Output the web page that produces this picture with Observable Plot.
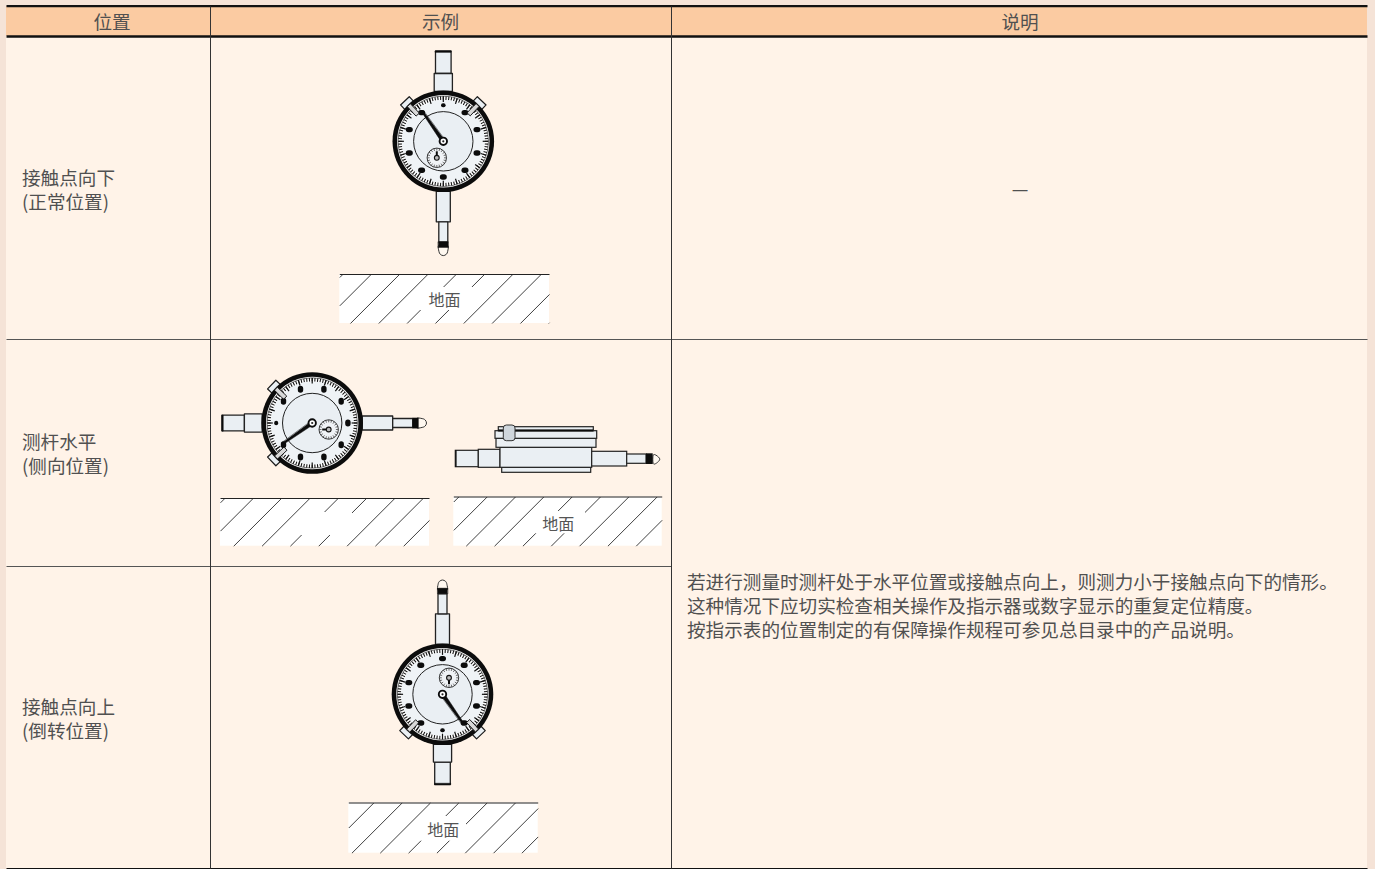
<!DOCTYPE html>
<html lang="zh"><head><meta charset="utf-8">
<script src="https://cdn.jsdelivr.net/npm/d3@7"></script>
<script src="https://cdn.jsdelivr.net/npm/@observablehq/plot@0.6"></script>
<style>html,body{margin:0;padding:0;background:#f5e3d7;overflow:hidden}svg{display:block;position:absolute;left:0;top:0}</style>
</head><body><div id="chart"></div>
<script>
// ---- table text ----
const headers = ["位置", "示例", "说明"];
const rowLabels = [["接触点向下", "(正常位置)"], ["测杆水平", "(侧向位置)"], ["接触点向上", "(倒转位置)"]];
const dashText = "—";
const descLines = [
  "若进行测量时测杆处于水平位置或接触点向上\uFF0C则测力小于接触点向下的情形。",
  "这种情况下应切实检查相关操作及指示器或数字显示的重复定位精度。",
  "按指示表的位置制定的有保障操作规程可参见总目录中的产品说明。"
];
const groundLabel = "地面";
// ---- table frame ----
const tableLeft = 6, tableRight = 1367, tableTop = 6, tableBottom = 868;
const headBottom = 36, col1 = 210, col2 = 671, row1 = 339, row2 = 566;
const headerCentres = [111.5, 440, 1019.5];
const labelX = 21.5, descX = 686.5;
const labelYs = [[179, 203], [443, 467], [708, 732]];
const descYs = [583, 607, 631];
// ---- colours ----
const cell = "#fff3e8", head = "#fbcba2", ink = "#0c0c0c", face = "#eaeff3", textInk = "#505050";
// ---- gauge model, in dial units ----
const gauges = [{cx: 442.8, cy: 140.8, deg: 0}, {cx: 311.7, cy: 422.5, deg: -90}, {cx: 442, cy: 693.8, deg: 180}];
const stemParts = [
  {hw: 7.8, a: -90.3, b: -67.8}, {hw: 9.1, a: -67.8, b: -50},
  {hw: 7, a: 50, b: 80.5}, {hw: 4.5, a: 80.5, b: 100.5}
];
const dialNumbers = [[0, -36, 1], [21.7, -28.7, 2], [33.7, -11.7, 2], [33.7, 11.7, 2], [21.7, 29, 2], [0, 35.7, 2], [-21.7, 29, 2], [-34, 11.7, 2], [-34, -11.7, 2], [-21.7, -28.7, 2]];
const needleEnd = [-21, -30], subCentre = [-6.5, 16.5];
const tickCount = 100, subTickCount = 20, lugAngles = [-43.5, 43.5];
// ---- side view, screen rectangles ----
const sideParts = [
  [455.3, 478.3, 450.3, 466.7], [478.3, 500, 449.3, 467.3], [501.7, 590.7, 467.3, 472.3],
  [500, 591.7, 447.3, 467.3], [591.7, 626.7, 451.3, 466], [626.7, 646, 454, 463.3],
  [496, 596, 438.3, 447.3], [495, 596.7, 430.7, 438.3], [498.3, 593.3, 426.7, 430.7]
];
const sideDark = [[455.3, 456.6, 450.3, 466.7], [646, 652.7, 453.3, 464], [498.3, 593.3, 429.4, 431.4]];
const sideClip = [503.3, 515, 425, 440.7], sideTip = [[652.7, 454.6], [656, 455], [659.3, 458.7], [656, 462.6], [652.7, 463]];
// ---- ground blocks ----
const hatchStep = 28.33;
const grounds = [
  {x0: 339.3, x1: 549, y0: 274, y1: 323, first: 342.3, gap: [417, 472, 287, 310], label: [444, 300.5]},
  {x0: 220, x1: 429, y0: 498, y1: 545.7, first: 224.3, gap: [298, 352, 512, 535]},
  {x0: 453.3, x1: 661.7, y0: 496.5, y1: 545.7, first: 458.3, gap: [531, 585, 511, 533.3], label: [557.7, 524.8]},
  {x0: 348.3, x1: 537.7, y0: 802.5, y1: 852.7, first: 373.3, gap: [420, 466, 816, 840.7], label: [442.7, 830.5]}
];

const rect = (x1, x2, y1, y2, o = {}) => Plot.rect([{x1, x2, y1, y2}], {x1: "x1", x2: "x2", y1: "y1", y2: "y2", ...o});
const poly = (pts, o = {}) => Plot.line(pts, {x: d => d[0], y: d => d[1], curve: "linear-closed", ...o});
const seg = (rows, o = {}) => Plot.link(rows, {x1: d => d[0], y1: d => d[1], x2: d => d[2], y2: d => d[3], ...o});
const disc = (x, y, r, o = {}) => Plot.dot([[x, y]], {x: d => d[0], y: d => d[1], r, ...o});
const label = (rows, o = {}) => Plot.text(rows, {x: d => d.x, y: d => d.y, text: d => d.t, fontFamily: "Noto Sans CJK SC", fontSize: 18.6, fill: textInk, ...o});

function gaugeMarks({cx, cy, deg}) {
  const c = Math.cos(deg * Math.PI / 180), s = Math.sin(deg * Math.PI / 180);
  const P = (u, v) => [cx + u * c - v * s, cy + u * s + v * c];
  const pol = (r, a, ox = 0, oy = 0) => P(ox + r * Math.sin(a * Math.PI / 180), oy - r * Math.cos(a * Math.PI / 180));
  const ring = (ox, oy, n, r1, r2) => d3.range(n).map(i => [...pol(r1, i * 360 / n, ox, oy), ...pol(r2, i * 360 / n, ox, oy)]);
  const box = (hw, a, b) => [P(-hw, a), P(hw, a), P(hw, b), P(-hw, b)];
  const marks = [];
  const stem = {fill: face, stroke: "#222", strokeWidth: 1.3};
  // probe tip
  marks.push(poly([P(-4.4, 104), P(4.4, 104), P(4.4, 110), P(3, 113), P(0, 114.3), P(-3, 113), P(-4.4, 110)], {fill: "#fff8f0", stroke: "#333", strokeWidth: 1, curve: "cardinal-closed"}));
  for (const p of stemParts) marks.push(poly(box(p.hw, p.a, p.b), stem));
  marks.push(poly(box(7.8, -90.3, -89), {fill: ink, stroke: ink, strokeWidth: 0.6}));
  marks.push(poly(box(5.1, 100.5, 106.2), {fill: ink, stroke: ink, strokeWidth: 0.4}));
  // limit lugs
  for (const a of lugAngles) {
    const rad = a * Math.PI / 180, tx = Math.cos(rad), ty = Math.sin(rad), nx = Math.sin(rad), ny = -Math.cos(rad);
    const Q = (t, r) => P(t * tx + r * nx, t * ty + r * ny);
    marks.push(poly([Q(-6, 49), Q(6, 49), Q(6, 55.8), Q(-6, 55.8)], {fill: face, stroke: "#1a1a1a", strokeWidth: 1.2}));
  }
  // bezel and dial
  marks.push(disc(...P(0, 0), 50.8, {fill: ink}));
  marks.push(disc(...P(0, 0), 46.2, {fill: "#fff"}));
  marks.push(disc(...P(0, 0), 45.2, {fill: "#fff", stroke: "#555", strokeWidth: 0.8}));
  marks.push(seg(ring(0, 0, tickCount, 41.4, 45), {stroke: "#111", strokeWidth: 1.05}));
  marks.push(disc(...P(0, 0), 41.5, {fill: "#eff3f6"}));
  marks.push(seg(ring(0, 0, 20, 39.4, 45), {stroke: "#111", strokeWidth: 1.2}));
  for (const [u, v, w] of dialNumbers) {
    marks.push(seg([[...P(u - w / 2 + .2, v), ...P(u + w / 2 - .2, v)]], {stroke: ink, strokeWidth: w < 2 ? 4 : 5.4, strokeLinecap: "round"}));
  }
  marks.push(disc(...P(0, 0), 29.7, {fill: face, stroke: "#222", strokeWidth: 1}));
  // limit lug stalks
  for (const a of lugAngles) {
    const rad = a * Math.PI / 180, tx = Math.cos(rad), ty = Math.sin(rad), nx = Math.sin(rad), ny = -Math.cos(rad);
    const Q = (t, r) => P(t * tx + r * nx, t * ty + r * ny);
    marks.push(poly([Q(-2, 37), Q(2, 37), Q(2, 50), Q(-2, 50)], {fill: "#d8d8d8", stroke: "#1a1a1a", strokeWidth: 1}));
  }
  // sub dial
  const [su, sv] = subCentre;
  marks.push(disc(...P(su, sv), 9.7, {fill: "#f0f3f6", stroke: "#222", strokeWidth: 0.9}));
  marks.push(seg(ring(su, sv, subTickCount, 7.2, 9.6), {stroke: "#333", strokeWidth: 0.7}));
  marks.push(seg([[...P(su, sv), ...P(su, sv - 6.5)]], {stroke: ink, strokeWidth: 2}));
  marks.push(disc(...P(su, sv), 2.4, {fill: "#bbb", stroke: "#111", strokeWidth: 1.1}));
  // needle
  const e = Math.hypot(...needleEnd), nu = -needleEnd[1] / e, nv = needleEnd[0] / e;
  marks.push(poly([P(nu * 1.9, nv * 1.9), P(-nu * 1.9, -nv * 1.9), P(needleEnd[0] - nu, needleEnd[1] - nv), P(needleEnd[0] + nu, needleEnd[1] + nv)], {fill: ink, stroke: ink, strokeWidth: 0.5}));
  marks.push(disc(...P(0, 0), 3.7, {fill: "#fff", stroke: ink, strokeWidth: 1.9}));
  marks.push(disc(...P(0, 0), 1.1, {fill: "#222"}));
  return marks;
}

function groundMarks(g) {
  const h = g.y1 - g.y0, rows = [];
  for (let c = g.first; c - h < g.x1; c += hatchStep) {
    let ax = c, ay = g.y0, bx = c - h, by = g.y1;
    if (ax > g.x1) { ay = g.y0 + ax - g.x1; ax = g.x1; }
    if (bx < g.x0) { by = g.y1 - (g.x0 - bx); bx = g.x0; }
    rows.push([ax, ay, bx, by]);
  }
  const m = [rect(g.x0, g.x1, g.y0, g.y1, {fill: "#fff"}),
    seg(rows, {stroke: "#2a2a2a", strokeWidth: 0.9}),
    rect(g.gap[0], g.gap[1], g.gap[2], g.gap[3], {fill: "#fff"}),
    seg([[g.x0, g.y0, g.x1, g.y0]], {stroke: "#222", strokeWidth: 1.1})];
  if (g.label) m.push(label([{x: g.label[0], y: g.label[1], t: groundLabel}], {fontSize: 16, fill: "#555"}));
  return m;
}

function sideMarks() {
  const s = {fill: face, stroke: "#222", strokeWidth: 1.2};
  return [
    poly(sideTip, {fill: "#fff8f0", stroke: "#333", strokeWidth: 1, curve: "cardinal-closed"}),
    ...sideParts.map(([a, b, c, d]) => rect(a, b, c, d, s)),
    ...sideDark.map(([a, b, c, d]) => rect(a, b, c, d, {fill: ink})),
    rect(sideClip[0], sideClip[1], sideClip[2], sideClip[3], {fill: "#cfd6dc", stroke: "#333", strokeWidth: 1, rx: 3})
  ];
}

const chart = Plot.plot({
  width: 1375, height: 869, margin: 0,
  x: {domain: [0, 1375], range: [0, 1375], axis: null},
  y: {domain: [0, 869], range: [0, 869], axis: null},
  style: {background: "transparent"},
  marks: [
    rect(tableLeft, tableRight, tableTop, tableBottom, {fill: cell}),
    rect(tableLeft, tableRight, tableTop, headBottom, {fill: head}),
    // lines
    seg([[tableLeft, row1, tableRight, row1]], {stroke: "#555", strokeWidth: 1}),
    seg([[tableLeft, row2, col2, row2]], {stroke: "#555", strokeWidth: 1}),
    seg([[tableLeft, 5.7, tableRight, 5.7]], {stroke: "#111", strokeWidth: 2.2}),
    seg([[tableLeft, headBottom, tableRight, headBottom]], {stroke: "#111", strokeWidth: 2.4}),
    seg([[tableLeft, tableBottom, tableRight, tableBottom]], {stroke: "#111", strokeWidth: 1.2}),
    seg([[col1, 6, col1, tableBottom]], {stroke: "#333", strokeWidth: 1}),
    seg([[col2, 6, col2, tableBottom]], {stroke: "#333", strokeWidth: 1}),
    // illustrations
    ...grounds.flatMap(groundMarks),
    ...gauges.flatMap(gaugeMarks),
    ...sideMarks(),
    // text
    label(headers.map((t, i) => ({t, x: headerCentres[i], y: 23}))),
    label(rowLabels.flatMap((r, i) => r.map((t, j) => ({t, x: labelX, y: labelYs[i][j]}))), {textAnchor: "start"}),
    label(descLines.map((t, i) => ({t, x: descX, y: descYs[i]})), {textAnchor: "start"}),
    label([{t: dashText, x: 1019.5, y: 190}])
  ]
});
document.getElementById("chart").append(chart);
</script></body></html>
